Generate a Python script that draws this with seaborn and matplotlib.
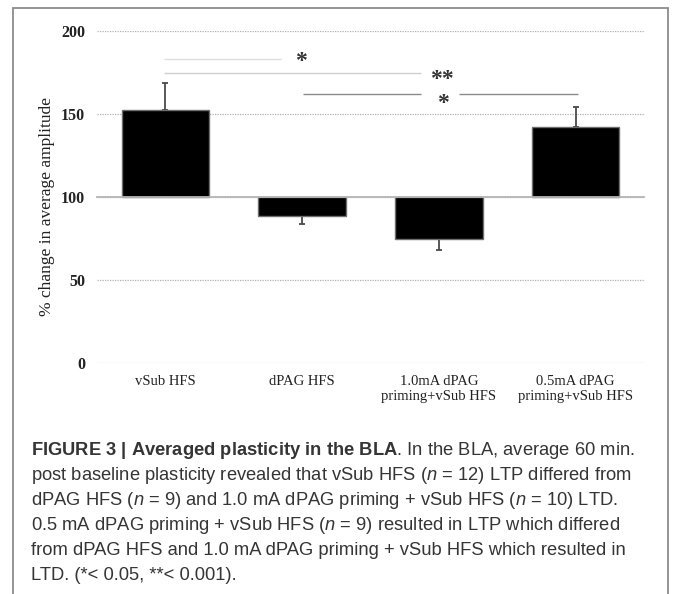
import numpy as np
import pandas as pd
import matplotlib
matplotlib.use("Agg")
import matplotlib.pyplot as plt
import seaborn as sns
from matplotlib import font_manager
from matplotlib.patches import Rectangle

# ---------------- data ----------------
categories = ["vSub HFS", "dPAG HFS", "1.0mA dPAG\npriming+vSub HFS", "0.5mA dPAG\npriming+vSub HFS"]
mean_change = [152.5, 88.5, 74.5, 142.0]
sem = [16.0, 4.5, 6.5, 12.0]
baseline = 100
yticks = [0, 50, 100, 150, 200]

# significance lines (x from, x to, y)
sig_x0 = [-0.01, -0.01, 1.01, 2.15]
sig_x1 = [0.845, 1.87, 1.87, 3.02]
sig_y = [183, 174.5, 162, 162]
sig_colors = ["#dddddd", "#cfcfcf", "#8a8a8a", "#8a8a8a"]
sig_text_x = [0.99, 2.02, 2.03]
sig_text_y = [181.8, 170.5, 156.5]
sig_text = ["*", "**", "*"]

caption_lines = [
    r"$\mathbf{FIGURE\ 3\ |\ Averaged\ plasticity\ in\ the\ BLA}$. In the BLA, average 60 min.",
    r"post baseline plasticity revealed that vSub HFS ($\mathit{n}$ = 12) LTP differed from",
    r"dPAG HFS ($\mathit{n}$ = 9) and 1.0 mA dPAG priming + vSub HFS ($\mathit{n}$ = 10) LTD.",
    r"0.5 mA dPAG priming + vSub HFS ($\mathit{n}$ = 9) resulted in LTP which differed",
    "from dPAG HFS and 1.0 mA dPAG priming + vSub HFS which resulted in",
    "LTD. (*< 0.05, **< 0.001).",
]

# ---------------- style ----------------
sns.set_style("white")
names = {f.name for f in font_manager.fontManager.ttflist}
narrow = "Liberation Sans Narrow" in names
cap_font = "Liberation Sans Narrow" if narrow else "Liberation Sans"
cap_size = 15.5 if narrow else 13.25
serif = "Liberation Serif"
plt.rcParams["font.family"] = [serif, "DejaVu Serif"]
plt.rcParams["mathtext.fontset"] = "custom"
plt.rcParams["mathtext.rm"] = cap_font
plt.rcParams["mathtext.it"] = cap_font + ":italic"
plt.rcParams["mathtext.bf"] = cap_font + ":bold"

W, H = 673, 594
fig = plt.figure(figsize=(W / 100, H / 100), dpi=100)
ax = fig.add_axes([97 / W, 1 - 363 / H, 547 / W, 332 / H])

df = pd.DataFrame({
    "condition": categories,
    "delta": np.array(mean_change) - baseline,
})
sns.barplot(data=df, x="condition", y="delta", bottom=baseline, color="black",
            saturation=1, edgecolor="#6e6e6e", linewidth=1.0, width=0.64,
            errorbar=None, ax=ax, zorder=3)

means = np.array(mean_change)
errs = np.array(sem)
lower = np.where(means < baseline, errs, 0)
upper = np.where(means >= baseline, errs, 0)
ax.errorbar(np.arange(len(categories)), means, yerr=[lower, upper], fmt="none",
            ecolor="#4a4a4a", elinewidth=1.3, capsize=2.4, capthick=1.3, zorder=2)

ax.set_xlim(-0.5, len(categories) - 0.5)
ax.set_ylim(0, 200)
ax.set_yticks(yticks)
ax.set_yticklabels([str(v) for v in yticks], fontsize=11.5, fontweight="bold", color="#222")
ax.tick_params(axis="y", length=0, pad=8.5)
ax.yaxis.grid(True, linestyle=(0, (1, 1)), color="#b0b0b0", linewidth=0.9)
ax.set_axisbelow(True)

for s in ["left", "right", "top"]:
    ax.spines[s].set_visible(False)
ax.spines["bottom"].set_position(("data", baseline))
ax.spines["bottom"].set_color("#b5b5b5")
ax.spines["bottom"].set_linewidth(1.3)
ax.spines["bottom"].set_zorder(4)
ax.set_xticks(np.arange(len(categories)))
ax.set_xticklabels([])
ax.set_xticks(np.arange(len(categories) + 1) - 0.5, minor=True)
ax.tick_params(axis="x", which="major", length=0)
ax.tick_params(axis="x", which="minor", length=4, width=1.0, color="#b5b5b5", direction="out")
ax.set_xlabel("")

sec = ax.secondary_xaxis("bottom")
sec.set_xticks(np.arange(len(categories)))
sec.set_xticklabels(categories, fontsize=10.5, color="#222", linespacing=1.2)
sec.tick_params(length=0, pad=8.5)
sec.spines["bottom"].set_visible(False)

ax.set_ylabel("% change in average amplitude", fontsize=12.5, color="#222", labelpad=6)
ax.yaxis.set_label_coords(-0.077, 0.47)

# significance annotations
ax.hlines(sig_y, sig_x0, sig_x1, colors=sig_colors, linewidth=1.0, zorder=1)
for tx, ty, t in zip(sig_text_x, sig_text_y, sig_text):
    ax.text(tx, ty, t, ha="center", va="center", fontsize=17, fontweight="bold", color="#333")

# frame around the figure panel
fig.patches.append(Rectangle((12.5 / W, -0.05), (667.5 - 12.5) / W, 1.05 - 7.5 / H,
                             transform=fig.transFigure, fill=False, edgecolor="#8c8c8c",
                             linewidth=1.3, clip_on=False))

# caption
for i, line in enumerate(caption_lines):
    fig.text(31 / W, 1 - (455 + 25 * i) / H, line, family=[cap_font, "DejaVu Sans"],
             fontsize=cap_size, color="#353535", va="baseline", ha="left")

fig.savefig("out.png", dpi=100)
